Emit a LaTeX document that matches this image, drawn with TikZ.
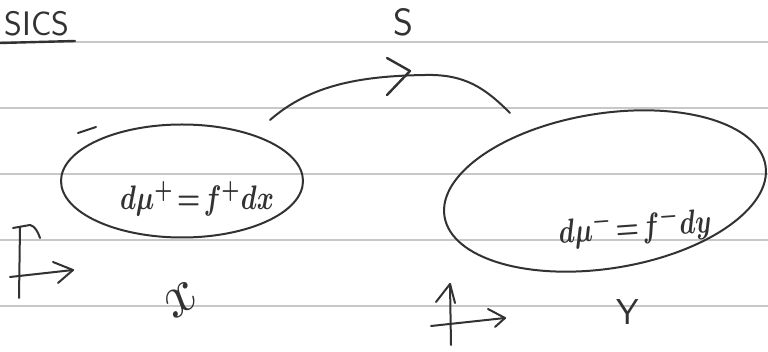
\documentclass[tikz,border=0pt]{standalone}
\usepackage{graphicx}
\usetikzlibrary{shapes.geometric}
\definecolor{ink}{RGB}{50,50,50}
\definecolor{rule}{RGB}{200,200,200}
\tikzset{
  pen/.style={draw=ink, line width=2pt, line cap=round, line join=round},
  ruled/.style={draw=rule, line width=1.1pt},
  blob/.style={ellipse, pen, inner sep=0pt},
  hand/.style={text=ink, inner sep=0pt},
}
\begin{document}
\begin{tikzpicture}[x=1pt,y=-1pt]
\useasboundingbox (0,0) rectangle (768,352);
\fill[white] (0,0) rectangle (768,352);
% ruled paper lines
\foreach \yy in {42,108,174,240,306} \draw[ruled] (0,\yy) -- (768,\yy);
% title
\node[hand, font=\fontsize{34}{34}\selectfont\sffamily] (title) at (37,24) {SICS};
\draw[pen, line width=2.4pt] (0,43) -- (75,41);
% map label
\node[hand, font=\fontsize{38}{38}\selectfont\sffamily] (S) at (403,22) {S};
% ellipses
\node[blob, minimum width=242pt, minimum height=113pt] (X) at (182,181) {};
\node[blob, minimum width=325pt, minimum height=155pt, rotate=9] (Y) at (605,191) {};
\draw[pen] (78,133) -- (96,127);
% equations
\node[hand] (eqX) at (197,199) {\scalebox{2.6}[3.4]{\boldmath$d\mu^{+}\!=\!f^{+}dx$}};
\node[hand, rotate=4] (eqY) at (635,227) {\scalebox{2.6}[3.4]{\boldmath$d\mu^{-}\!=\!f^{-}dy$}};
% map arc
\coordinate (a0) at (270,120);
\coordinate (a1) at (510,113);
\coordinate (m) at (410,71);
\draw[pen] (a0) .. controls (310,85) and (360,76) .. (425,75) .. controls (465,74) and (485,88) .. (a1);
\draw[pen, line width=2.4pt] ([shift={(-23,-13)}]m) -- (m) -- ([shift={(-23,24)}]m);
% left axes
\coordinate (lv0) at (20,227);
\coordinate (lv1) at (19,298);
\draw[pen] (lv0) -- (lv1);
\draw[pen] (13,228) -- (30,225) .. controls (35,226) and (38,232) .. (40,238);
\coordinate (lh0) at (10,277);
\coordinate (lh1) at (73,270);
\draw[pen] (lh0) -- (lh1);
\draw[pen] (53,262) -- (lh1) -- (58,283);
% right axes
\coordinate (rv0) at (451,345);
\coordinate (rv1) at (450,284);
\draw[pen] (rv0) -- (rv1);
\draw[pen] (436,302) -- (rv1) -- (455,303);
\coordinate (rh0) at (431,326);
\coordinate (rh1) at (505,318);
\draw[pen] (rh0) -- (rh1);
\draw[pen] (488,309) -- (rh1) -- (495,327);
% set labels
\node[hand, rotate=35] (lx) at (181,300) {\scalebox{6}{$x$}};
\node[hand, font=\fontsize{36}{36}\selectfont\sffamily] (ly) at (628,312) {Y};
\end{tikzpicture}
\end{document}
